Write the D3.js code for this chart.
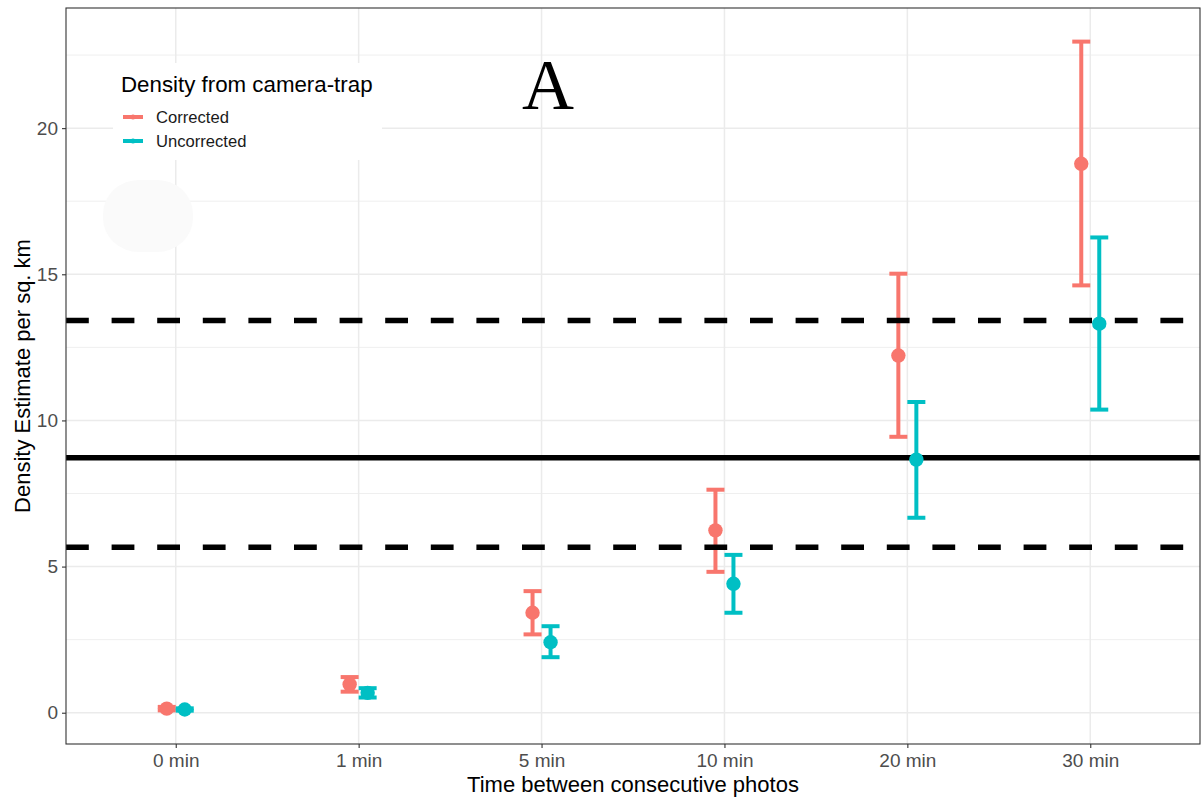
<!DOCTYPE html>
<html>
<head>
<meta charset="utf-8">
<script src="https://cdn.jsdelivr.net/npm/d3@7"></script>
<style>
  body { margin: 0; background: #fff; }
  svg { display: block; font-family: Arial, "Liberation Sans", sans-serif; }
</style>
</head>
<body>
<svg id="chart"></svg>
<script>
const width = 1203;
const height = 798;
const margin = {top: 8, right: 3, bottom: 54, left: 66};

const categories = ['0 min', '1 min', '5 min', '10 min', '20 min', '30 min'];
const groups = ['Corrected', 'Uncorrected'];
const colors = {Corrected: '#F8766D', Uncorrected: '#00BFC4'};

// estimates and error bar limits, one value per category
const corrected_est = [0.14, 0.97, 3.42, 6.24, 12.22, 18.78];
const corrected_low = [0.08, 0.72, 2.68, 4.82, 9.44, 14.62];
const corrected_high = [0.20, 1.22, 4.16, 7.63, 15.02, 22.96];
const uncorrected_est = [0.11, 0.68, 2.41, 4.41, 8.66, 13.31];
const uncorrected_low = [0.07, 0.52, 1.90, 3.42, 6.67, 10.37];
const uncorrected_high = [0.15, 0.84, 2.96, 5.40, 10.63, 16.26];

// reference lines: estimate and its interval
const ref_lines = [
  {value: 8.72, dashed: false},
  {value: 13.42, dashed: true},
  {value: 5.66, dashed: true}
];

const y_ticks = [0, 5, 10, 15, 20];
const y_minor = [2.5, 7.5, 12.5, 17.5, 22.5];

const rows = [];
categories.forEach((c, i) => {
  rows.push({cat: c, group: 'Corrected', est: corrected_est[i], low: corrected_low[i], high: corrected_high[i]});
  rows.push({cat: c, group: 'Uncorrected', est: uncorrected_est[i], low: uncorrected_low[i], high: uncorrected_high[i]});
});

const svg = d3.select('#chart')
  .attr('width', width)
  .attr('height', height)
  .attr('viewBox', [0, 0, width, height]);

const x = d3.scalePoint()
  .domain(categories)
  .range([margin.left, width - margin.right])
  .padding(0.6);

const dodge = d3.scalePoint()
  .domain(groups)
  .range([-9, 9]);

const y = d3.scaleLinear()
  .domain([-1.07, 24.11])
  .range([height - margin.bottom, margin.top]);

const px = d => x(d.cat) + dodge(d.group);

// grid
const grid = svg.append('g').attr('id', 'grid');
grid.selectAll('.minor')
  .data(y_minor)
  .enter().append('line')
    .attr('x1', margin.left).attr('x2', width - margin.right)
    .attr('y1', d => y(d)).attr('y2', d => y(d))
    .attr('stroke', '#EBEBEB').attr('stroke-width', 0.8);
grid.selectAll('.major')
  .data(y_ticks)
  .enter().append('line')
    .attr('x1', margin.left).attr('x2', width - margin.right)
    .attr('y1', d => y(d)).attr('y2', d => y(d))
    .attr('stroke', '#EBEBEB').attr('stroke-width', 1.5);
grid.selectAll('.vmajor')
  .data(categories)
  .enter().append('line')
    .attr('x1', d => x(d)).attr('x2', d => x(d))
    .attr('y1', margin.top).attr('y2', height - margin.bottom)
    .attr('stroke', '#EBEBEB').attr('stroke-width', 1.5);

// error bars
const bars = svg.append('g').attr('id', 'errorbars')
  .selectAll('g')
  .data(rows)
  .enter().append('g')
    .attr('stroke', d => colors[d.group])
    .attr('stroke-width', 4);
bars.append('line')
  .attr('x1', px).attr('x2', px)
  .attr('y1', d => y(d.low)).attr('y2', d => y(d.high));
bars.append('line')
  .attr('x1', d => px(d) - 9).attr('x2', d => px(d) + 9)
  .attr('y1', d => y(d.low)).attr('y2', d => y(d.low));
bars.append('line')
  .attr('x1', d => px(d) - 9).attr('x2', d => px(d) + 9)
  .attr('y1', d => y(d.high)).attr('y2', d => y(d.high));

// reference lines
svg.append('g').attr('id', 'ref_lines')
  .selectAll('line')
  .data(ref_lines)
  .enter().append('line')
    .attr('x1', margin.left).attr('x2', width - margin.right)
    .attr('y1', d => y(d.value)).attr('y2', d => y(d.value))
    .attr('stroke', '#000')
    .attr('stroke-width', 5.5)
    .attr('stroke-dasharray', d => d.dashed ? '22.8 22.8' : null);

// points
svg.append('g').attr('id', 'points')
  .selectAll('circle')
  .data(rows)
  .enter().append('circle')
    .attr('cx', px)
    .attr('cy', d => y(d.est))
    .attr('r', 7.2)
    .attr('fill', d => colors[d.group]);

// legend
const legend = svg.append('g').attr('id', 'legend');
legend.append('rect')
  .attr('x', 113).attr('y', 63).attr('width', 269).attr('height', 97)
  .attr('fill', '#fff');
legend.append('text')
  .attr('x', 121).attr('y', 92)
  .style('font-size', '22.3px')
  .attr('fill', '#000')
  .text('Density from camera-trap');
const keys = legend.selectAll('.key')
  .data(groups)
  .enter().append('g')
    .attr('transform', (d, i) => `translate(0,${117 + i * 24})`);
keys.append('line')
  .attr('x1', 123).attr('x2', 143)
  .attr('stroke', d => colors[d])
  .attr('stroke-width', 4);
keys.append('circle')
  .attr('cx', 133).attr('r', 2.5)
  .attr('fill', d => colors[d]);
keys.append('text')
  .attr('x', 156).attr('y', 6)
  .style('font-size', '16.6px')
  .attr('fill', '#1a1a1a')
  .text(d => d);

// faint smudge on the panel
svg.append('rect')
  .attr('x', 103).attr('y', 180).attr('width', 90).attr('height', 72)
  .attr('rx', 36).attr('ry', 34)
  .attr('fill', '#FAFAFA');

// panel label
svg.append('text')
  .attr('x', 548).attr('y', 109)
  .attr('text-anchor', 'middle')
  .style('font-family', '"Liberation Serif", "Times New Roman", serif')
  .style('font-size', '72px')
  .attr('fill', '#000')
  .text('A');

// axes
const xAxis = svg.append('g')
  .attr('transform', `translate(0,${height - margin.bottom})`)
  .call(d3.axisBottom(x).tickSize(4).tickPadding(6));
const yAxis = svg.append('g')
  .attr('transform', `translate(${margin.left},0)`)
  .call(d3.axisLeft(y).tickValues(y_ticks).tickSize(4).tickPadding(4));
[xAxis, yAxis].forEach(a => {
  a.select('.domain').remove();
  a.selectAll('.tick line').attr('stroke', '#333').attr('stroke-width', 1.1);
  a.selectAll('.tick text')
    .attr('fill', '#4D4D4D')
    .style('font-size', '19px')
    .style('font-family', 'Arial, "Liberation Sans", sans-serif');
});

// panel border
svg.append('rect')
  .attr('x', margin.left).attr('y', margin.top)
  .attr('width', width - margin.right - margin.left)
  .attr('height', height - margin.bottom - margin.top)
  .attr('fill', 'none')
  .attr('stroke', '#333')
  .attr('stroke-width', 1.1);

svg.append('text')
  .attr('x', (margin.left + width - margin.right) / 2)
  .attr('y', 792)
  .attr('text-anchor', 'middle')
  .style('font-size', '22px')
  .attr('fill', '#000')
  .text('Time between consecutive photos');

svg.append('text')
  .attr('transform', `translate(30,${(margin.top + height - margin.bottom) / 2}) rotate(-90)`)
  .attr('text-anchor', 'middle')
  .style('font-size', '22px')
  .attr('fill', '#000')
  .text('Density Estimate per sq. km');
</script>
</body>
</html>
